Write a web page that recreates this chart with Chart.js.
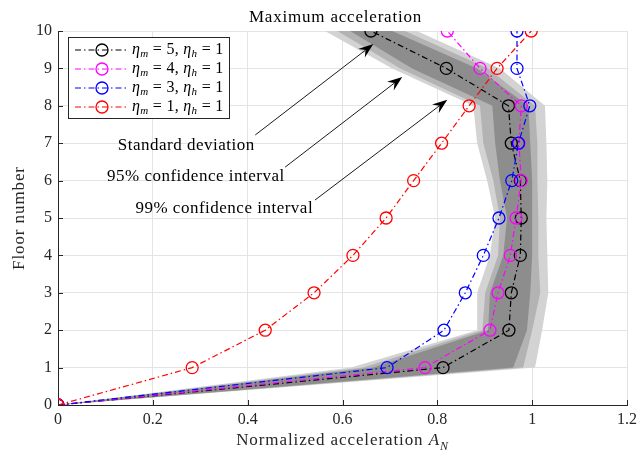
<!DOCTYPE html>
<html lang="en">
<head>
<meta charset="UTF-8">
<title>Maximum acceleration</title>
<script src="https://cdn.jsdelivr.net/npm/chart.js"></script>
<style>
  html, body { margin: 0; padding: 0; background: #fff; }
  #wrap { width: 638px; height: 453px; }
</style>
</head>
<body>
<div id="wrap"><canvas id="accChart" width="638" height="453"></canvas></div>
<script>
// floors and normalized peak accelerations
const floors = [0, 1, 2, 3, 4, 5, 6, 7, 8, 9, 10];
const accEta5 = [0, 0.812, 0.951, 0.956, 0.975, 0.977, 0.975, 0.956, 0.950, 0.819, 0.660];
const accEta4 = [0, 0.774, 0.911, 0.928, 0.954, 0.966, 0.977, 0.972, 0.977, 0.890, 0.821];
const accEta3 = [0, 0.694, 0.814, 0.859, 0.897, 0.930, 0.957, 0.971, 0.995, 0.968, 0.968];
const accEta1 = [0, 0.283, 0.437, 0.540, 0.622, 0.692, 0.750, 0.809, 0.867, 0.926, 0.998];

// scatter bands around the eta_m = 5 response
const ci99Lo = [0, 0.618, 0.884, 0.884, 0.911, 0.922, 0.905, 0.884, 0.876, 0.705, 0.563];
const ci99Hi = [0, 1.006, 1.021, 1.034, 1.032, 1.030, 1.032, 1.030, 1.027, 0.932, 0.757];
const ci95Lo = [0, 0.643, 0.895, 0.901, 0.928, 0.932, 0.918, 0.897, 0.890, 0.722, 0.589];
const ci95Hi = [0, 0.981, 1.000, 1.017, 1.013, 1.013, 1.011, 1.011, 1.006, 0.907, 0.732];
const stdLo  = [0, 0.665, 0.907, 0.911, 0.939, 0.947, 0.932, 0.922, 0.916, 0.747, 0.616];
const stdHi  = [0, 0.960, 0.989, 0.996, 1.000, 1.000, 1.000, 0.996, 0.992, 0.884, 0.705];

const xTicks = [0, 0.2, 0.4, 0.6, 0.8, 1, 1.2];
const yTicks = [0, 1, 2, 3, 4, 5, 6, 7, 8, 9, 10];

const seriesLabels = [['5', '1'], ['4', '1'], ['3', '1'], ['1', '1']];
const seriesColors = ['#000000', '#ff00ff', '#0000ff', '#ff0000'];

// text label + arrow: [text, label anchor (x, floor), arrow start, arrow tip]
const notes = [
  ['Standard deviation',     [0.415, 6.95], [0.416, 7.22], [0.665, 9.65]],
  ['95% confidence interval', [0.478, 6.12], [0.479, 6.36], [0.726, 8.77]],
  ['99% confidence interval', [0.538, 5.24], [0.542, 5.48], [0.821, 8.16]]
];

const SERIF = '"Liberation Serif", "DejaVu Serif", serif';
const INK = '#262626';
const DASHDOT = [6, 3, 1.5, 3];

const pts = xs => xs.map((x, i) => ({ x: x, y: floors[i] }));

function band(lo, hi, color, order) {
  return [
    { data: pts(lo), borderColor: 'rgba(0,0,0,0)', borderWidth: 0, pointRadius: 0, fill: false, order: order },
    { data: pts(hi), borderColor: 'rgba(0,0,0,0)', borderWidth: 0, pointRadius: 0, fill: '-1',
      backgroundColor: color, order: order - 1 }
  ];
}

function series(vals, color, order) {
  return {
    data: pts(vals), borderColor: color, borderWidth: 1.2, borderDash: DASHDOT,
    pointRadius: 6, pointHoverRadius: 6, pointBorderWidth: 1.3, pointBorderColor: color,
    pointBackgroundColor: 'rgba(0,0,0,0)', fill: false, order: order
  };
}

// draws runs of text with italic letters and subscripts
function mathText(ctx, x, y, runs, size) {
  let cx = x;
  runs.forEach(r => {
    const s = r.sub ? Math.round(size * 0.7) : size;
    ctx.font = (r.it ? 'italic ' : '') + s + 'px ' + SERIF;
    ctx.fillText(r.t, cx, y + (r.sub ? size * 0.28 : 0));
    cx += ctx.measureText(r.t).width;
  });
  return cx - x;
}

function measureMath(ctx, runs, size) {
  let w = 0;
  runs.forEach(r => {
    const s = r.sub ? Math.round(size * 0.7) : size;
    ctx.font = (r.it ? 'italic ' : '') + s + 'px ' + SERIF;
    w += ctx.measureText(r.t).width;
  });
  return w;
}

function arrow(ctx, x0, y0, x1, y1) {
  const dx = x1 - x0, dy = y1 - y0, len = Math.hypot(dx, dy);
  const ux = dx / len, uy = dy / len, nx = -uy, ny = ux;
  const L = 15, W = 5.5;
  const bx = x1 - ux * L, by = y1 - uy * L;
  const kx = x1 - ux * L * 0.65, ky = y1 - uy * L * 0.65;
  ctx.strokeStyle = '#000';
  ctx.lineWidth = 0.9;
  ctx.setLineDash([]);
  ctx.beginPath();
  ctx.moveTo(x0, y0);
  ctx.lineTo(kx, ky);
  ctx.stroke();
  ctx.fillStyle = '#000';
  ctx.beginPath();
  ctx.moveTo(x1, y1);
  ctx.lineTo(bx + nx * W, by + ny * W);
  ctx.lineTo(kx, ky);
  ctx.lineTo(bx - nx * W, by - ny * W);
  ctx.closePath();
  ctx.fill();
}

const decorations = {
  id: 'decorations',
  afterDraw(chart) {
    const ctx = chart.ctx;
    const xs = chart.scales.x, ys = chart.scales.y;
    const area = chart.chartArea;
    ctx.save();

    // inward tick marks
    ctx.strokeStyle = INK;
    ctx.lineWidth = 1;
    ctx.beginPath();
    xTicks.forEach(v => {
      const px = Math.round(xs.getPixelForValue(v)) + 0.5;
      ctx.moveTo(px, area.bottom);
      ctx.lineTo(px, area.bottom - 5);
    });
    yTicks.forEach(v => {
      const py = Math.round(ys.getPixelForValue(v)) + 0.5;
      ctx.moveTo(area.left, py);
      ctx.lineTo(area.left + 5, py);
    });
    ctx.stroke();

    // title and axis titles
    ctx.fillStyle = '#000';
    ctx.textBaseline = 'alphabetic';
    ctx.textAlign = 'center';
    ctx.letterSpacing = '0.8px';
    ctx.font = '17px ' + SERIF;
    ctx.fillText('Maximum acceleration', (area.left + area.right) / 2 - 7, 22);

    ctx.fillStyle = INK;
    ctx.textAlign = 'left';
    ctx.letterSpacing = '0.9px';
    const xTitle = [{ t: 'Normalized acceleration ' }, { t: 'A', it: true }, { t: 'N', it: true, sub: true }];
    const xw = measureMath(ctx, xTitle, 17);
    mathText(ctx, (area.left + area.right) / 2 - xw / 2, 445, xTitle, 17);

    ctx.save();
    ctx.translate(24, (area.top + area.bottom) / 2);
    ctx.rotate(-Math.PI / 2);
    ctx.textAlign = 'center';
    ctx.letterSpacing = '0.9px';
    ctx.font = '17px ' + SERIF;
    ctx.fillText('Floor number', 0, 0);
    ctx.restore();

    // annotation labels and arrows
    ctx.fillStyle = '#000';
    ctx.textAlign = 'right';
    ctx.textBaseline = 'middle';
    ctx.letterSpacing = '0.5px';
    ctx.font = '17px ' + SERIF;
    notes.forEach(n => {
      ctx.fillText(n[0], xs.getPixelForValue(n[1][0]), ys.getPixelForValue(n[1][1]));
      arrow(ctx, xs.getPixelForValue(n[2][0]), ys.getPixelForValue(n[2][1]),
        xs.getPixelForValue(n[3][0]), ys.getPixelForValue(n[3][1]));
    });

    // legend
    const bx = area.left + 10, by = area.top + 6, bw = 161, bh = 81;
    ctx.fillStyle = '#fff';
    ctx.fillRect(bx, by, bw, bh);
    ctx.strokeStyle = INK;
    ctx.lineWidth = 1;
    ctx.setLineDash([]);
    ctx.strokeRect(bx + 0.5, by + 0.5, bw, bh);
    ctx.textAlign = 'left';
    ctx.textBaseline = 'middle';
    ctx.letterSpacing = '0.3px';
    seriesLabels.forEach((lab, i) => {
      const ly = by + 13 + i * 19;
      const col = seriesColors[i];
      ctx.strokeStyle = col;
      ctx.lineWidth = 1.2;
      ctx.setLineDash(DASHDOT);
      ctx.beginPath();
      ctx.moveTo(bx + 7, ly);
      ctx.lineTo(bx + 60, ly);
      ctx.stroke();
      ctx.setLineDash([]);
      ctx.lineWidth = 1.3;
      ctx.beginPath();
      ctx.arc(bx + 34, ly, 6, 0, Math.PI * 2);
      ctx.stroke();
      ctx.fillStyle = '#000';
      mathText(ctx, bx + 64, ly, [
        { t: 'η', it: true }, { t: 'm', it: true, sub: true }, { t: ' = ' + lab[0] + ', ' },
        { t: 'η', it: true }, { t: 'h', it: true, sub: true }, { t: ' = ' + lab[1] }
      ], 16);
    });

    ctx.restore();
  }
};

new Chart(document.getElementById('accChart'), {
  type: 'line',
  data: {
    datasets: [
      ...band(ci99Lo, ci99Hi, '#d3d3d3', 31),
      ...band(ci95Lo, ci95Hi, '#b3b3b3', 21),
      ...band(stdLo, stdHi, '#8d8d8d', 11),
      series(accEta5, seriesColors[0], 4),
      series(accEta4, seriesColors[1], 3),
      series(accEta3, seriesColors[2], 2),
      series(accEta1, seriesColors[3], 1)
    ]
  },
  options: {
    responsive: false,
    animation: false,
    indexAxis: 'y',
    parsing: true,
    layout: { padding: { top: 31, right: 11, left: 0, bottom: 0 } },
    plugins: {
      legend: { display: false },
      tooltip: { enabled: false },
      filler: { propagate: false }
    },
    elements: { line: { tension: 0 } },
    scales: {
      x: {
        type: 'linear', min: 0, max: 1.2,
        afterBuildTicks: s => { s.ticks = xTicks.map(v => ({ value: v })); },
        ticks: {
          color: INK, font: { family: SERIF, size: 16 }, padding: 5, maxRotation: 0,
          callback: v => String(Math.round(v * 10) / 10)
        },
        grid: { color: '#e4e4e4', drawTicks: false },
        border: { color: INK, width: 1 },
        afterFit: s => { s.height = 48; s.paddingLeft = 0; s.paddingRight = 0; }
      },
      y: {
        type: 'linear', min: 0, max: 10, position: 'left',
        afterBuildTicks: s => { s.ticks = yTicks.map(v => ({ value: v })); },
        ticks: { color: INK, font: { family: SERIF, size: 16 }, padding: 6 },
        grid: { color: '#e4e4e4', drawTicks: false },
        border: { color: INK, width: 1 },
        afterFit: s => { s.width = 58; s.paddingTop = 0; s.paddingBottom = 0; }
      }
    }
  },
  plugins: [decorations]
});
</script>
</body>
</html>
